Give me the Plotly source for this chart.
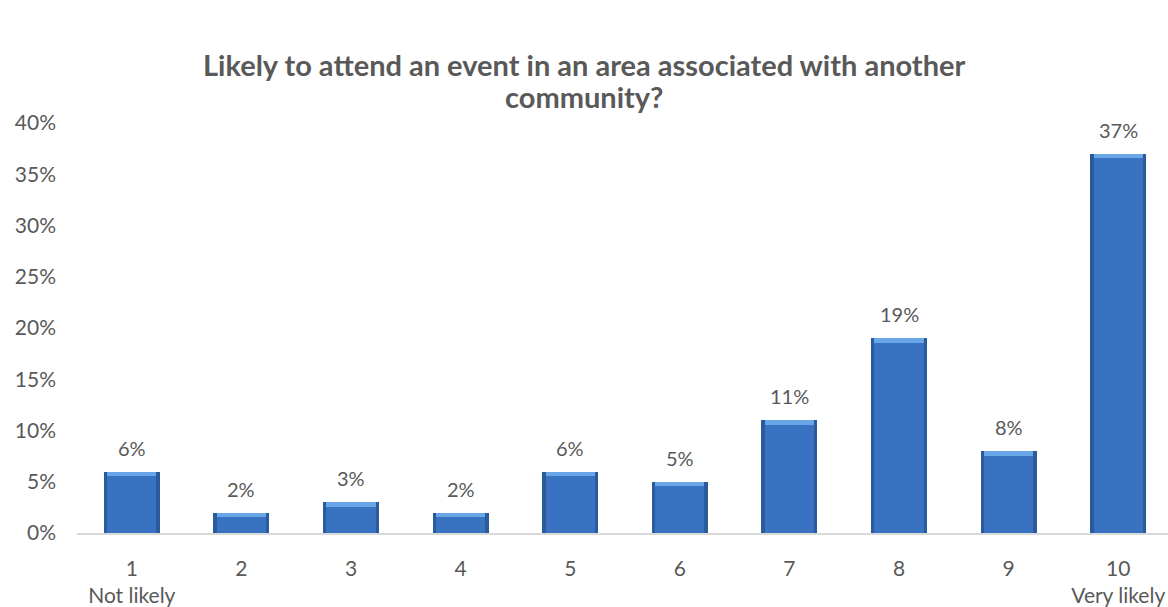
import plotly.graph_objects as go

# Survey responses: share of respondents per likelihood score (1-10)
scores = ["1", "2", "3", "4", "5", "6", "7", "8", "9", "10"]
score_notes = ["Not likely", "", "", "", "", "", "", "", "", "Very likely"]
shares = [6, 2, 3, 2, 6, 5, 11, 19, 8, 37]
y_ticks = [0, 5, 10, 15, 20, 25, 30, 35, 40]
y_tick_labels = [f"{t}%" for t in y_ticks]

title_lines = ["Likely to attend an event in an area associated with another", "community?"]

FONT = "Lato"
TEXT_GRAY = "#595959"

positions = list(range(len(scores)))
tick_text = [s if not n else f"{s}<br>{n}" for s, n in zip(scores, score_notes)]

fig = go.Figure()

# dark outer edge of each bar
fig.add_trace(go.Bar(
    x=positions, y=shares, width=0.51,
    marker=dict(color="#2c5b9b", line=dict(width=0)),
    hoverinfo="skip", showlegend=False,
))
# main face of the bar
fig.add_trace(go.Bar(
    x=positions, y=shares, width=0.45,
    marker=dict(color="#3872c0", line=dict(width=0)),
    hoverinfo="skip", showlegend=False,
))
# light bevel along the top edge
bevel = 0.45
fig.add_trace(go.Bar(
    x=positions, y=[bevel] * len(shares), base=[v - bevel for v in shares],
    width=0.45,
    marker=dict(color="#68a6e8", line=dict(width=0)),
    hoverinfo="skip", showlegend=False,
))

# value labels above the bars
for xi, v in zip(positions, shares):
    fig.add_annotation(
        x=xi, y=v, text=f"{v}%", showarrow=False,
        yanchor="middle", yshift=24,
        font=dict(family=FONT, size=20, color=TEXT_GRAY),
    )

# two-line chart title, centred on the page
for line, ypos in zip(title_lines, [1.1425, 1.0652]):
    fig.add_annotation(
        text=line, showarrow=False,
        xref="paper", yref="paper", x=(584 - 77) / 1091, y=ypos,
        xanchor="center", yanchor="middle",
        font=dict(family=FONT, size=29, color=TEXT_GRAY, weight="bold"),
    )

fig.update_layout(
    width=1168, height=607,
    margin=dict(l=77, r=0, t=123, b=70),
    paper_bgcolor="white", plot_bgcolor="white",
    barmode="overlay", bargap=0,
    font=dict(family=FONT, color=TEXT_GRAY, size=21),
    xaxis=dict(
        range=[-0.5, 9.454], tickvals=positions, ticktext=tick_text,
        showgrid=False, zeroline=False, showline=True,
        linecolor="#d9d9d9", linewidth=1.5, ticks="",
        ticklabelstandoff=16,
        tickfont=dict(family=FONT, size=21, color=TEXT_GRAY),
    ),
    yaxis=dict(
        range=[0, 40], tickvals=y_ticks, ticktext=y_tick_labels,
        showgrid=False, zeroline=False, showline=False, ticks="",
        ticklabelstandoff=20,
        tickfont=dict(family=FONT, size=21, color=TEXT_GRAY),
    ),
)

fig.write_html("out.html")
